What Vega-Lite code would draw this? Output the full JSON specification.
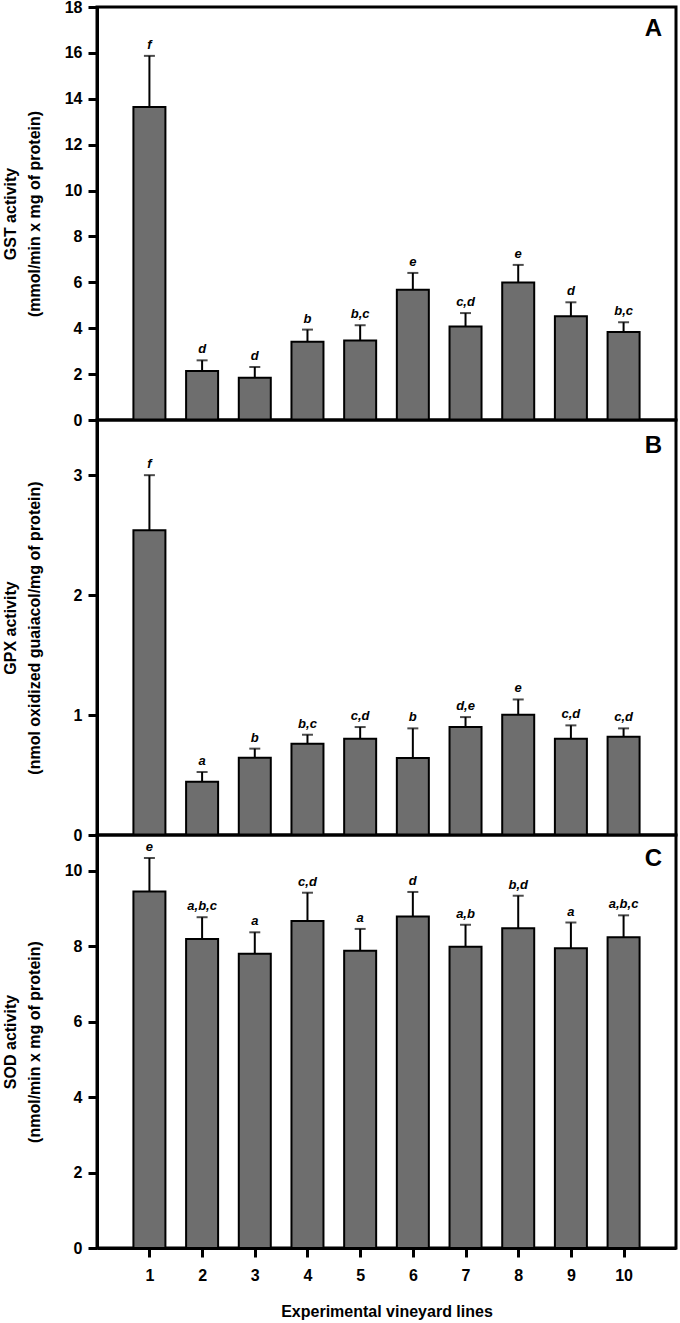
{
  "$schema": "https://vega.github.io/schema/vega-lite/v6.json",
  "padding": {"left": 0, "top": -3, "right": 2, "bottom": 4},
  "bounds": "flush",
  "spacing": 0,
  "background": "white",
  "config": {
    "font": "Liberation Sans",
    "view": {"stroke": "black", "strokeWidth": 3},
    "axis": {
      "grid": false,
      "domainColor": "black",
      "domainWidth": 3,
      "tickColor": "black",
      "tickWidth": 3,
      "tickSize": 9,
      "labelFont": "Liberation Sans",
      "labelFontWeight": "bold",
      "labelFontSize": 16,
      "labelColor": "black",
      "titleFont": "Liberation Sans",
      "titleFontWeight": "bold",
      "titleFontSize": 16,
      "titleColor": "black"
    },
    "axisY": {"labelPadding": 6, "minExtent": 33, "maxExtent": 33, "titlePadding": 22, "titleLineHeight": 24},
    "axisX": {"labelPadding": 10, "titlePadding": 20, "labelAngle": 0}
  },
  "datasets": {
    "d": [
      {"panel": "A", "line": 1, "value": 13.64, "err": 15.87, "label": "f"},
      {"panel": "A", "line": 2, "value": 2.14, "err": 2.60, "label": "d"},
      {"panel": "A", "line": 3, "value": 1.84, "err": 2.31, "label": "d"},
      {"panel": "A", "line": 4, "value": 3.41, "err": 3.94, "label": "b"},
      {"panel": "A", "line": 5, "value": 3.47, "err": 4.13, "label": "b,c"},
      {"panel": "A", "line": 6, "value": 5.68, "err": 6.41, "label": "e"},
      {"panel": "A", "line": 7, "value": 4.07, "err": 4.66, "label": "c,d"},
      {"panel": "A", "line": 8, "value": 5.99, "err": 6.76, "label": "e"},
      {"panel": "A", "line": 9, "value": 4.52, "err": 5.13, "label": "d"},
      {"panel": "A", "line": 10, "value": 3.84, "err": 4.26, "label": "b,c"},
      {"panel": "B", "line": 1, "value": 2.54, "err": 3.00, "label": "f"},
      {"panel": "B", "line": 2, "value": 0.444, "err": 0.525, "label": "a"},
      {"panel": "B", "line": 3, "value": 0.644, "err": 0.72, "label": "b"},
      {"panel": "B", "line": 4, "value": 0.761, "err": 0.836, "label": "b,c"},
      {"panel": "B", "line": 5, "value": 0.803, "err": 0.90, "label": "c,d"},
      {"panel": "B", "line": 6, "value": 0.642, "err": 0.889, "label": "b"},
      {"panel": "B", "line": 7, "value": 0.90, "err": 0.983, "label": "d,e"},
      {"panel": "B", "line": 8, "value": 1.003, "err": 1.13, "label": "e"},
      {"panel": "B", "line": 9, "value": 0.803, "err": 0.914, "label": "c,d"},
      {"panel": "B", "line": 10, "value": 0.82, "err": 0.889, "label": "c,d"},
      {"panel": "C", "line": 1, "value": 9.45, "err": 10.34, "label": "e"},
      {"panel": "C", "line": 2, "value": 8.19, "err": 8.77, "label": "a,b,c"},
      {"panel": "C", "line": 3, "value": 7.80, "err": 8.37, "label": "a"},
      {"panel": "C", "line": 4, "value": 8.67, "err": 9.42, "label": "c,d"},
      {"panel": "C", "line": 5, "value": 7.88, "err": 8.46, "label": "a"},
      {"panel": "C", "line": 6, "value": 8.79, "err": 9.44, "label": "d"},
      {"panel": "C", "line": 7, "value": 7.99, "err": 8.57, "label": "a,b"},
      {"panel": "C", "line": 8, "value": 8.48, "err": 9.34, "label": "b,d"},
      {"panel": "C", "line": 9, "value": 7.95, "err": 8.63, "label": "a"},
      {"panel": "C", "line": 10, "value": 8.24, "err": 8.82, "label": "a,b,c"}
    ]
  },
  "vconcat": [
    {
      "width": 579,
      "height": 413,
      "layer": [
        {
          "data": {"name": "d"},
          "transform": [{"filter": "datum.panel === 'A'"}],
          "mark": {"type": "rule", "color": "black", "strokeWidth": 2},
          "encoding": {
            "x": {"field": "line", "type": "quantitative", "scale": {"domain": [0.1, 10.9], "nice": false, "zero": false}, "axis": null},
            "y": {"field": "value", "type": "quantitative", "scale": {"domain": [0, 18], "nice": false},
              "axis": {"values": [0, 2, 4, 6, 8, 10, 12, 14, 16, 18], "title": ["GST activity", "(mmol/min x mg of protein)"]}},
            "y2": {"field": "err"}
          }
        },
        {
          "data": {"name": "d"},
          "transform": [{"filter": "datum.panel === 'A'"}],
          "mark": {"type": "tick", "orient": "horizontal", "size": 11, "thickness": 2, "color": "black"},
          "encoding": {
            "x": {"field": "line", "type": "quantitative", "scale": {"domain": [0.1, 10.9], "nice": false, "zero": false}, "axis": null},
            "y": {"field": "err", "type": "quantitative", "scale": {"domain": [0, 18], "nice": false},
              "axis": {"values": [0, 2, 4, 6, 8, 10, 12, 14, 16, 18], "title": ["GST activity", "(mmol/min x mg of protein)"]}}
          }
        },
        {
          "data": {"name": "d"},
          "transform": [{"filter": "datum.panel === 'A'"}],
          "mark": {"type": "bar", "orient": "vertical", "size": 32, "fill": "#6e6e6e", "stroke": "black", "strokeWidth": 2},
          "encoding": {
            "x": {"field": "line", "type": "quantitative", "scale": {"domain": [0.1, 10.9], "nice": false, "zero": false}, "axis": null},
            "y": {"field": "value", "type": "quantitative", "scale": {"domain": [0, 18], "nice": false},
              "axis": {"values": [0, 2, 4, 6, 8, 10, 12, 14, 16, 18], "title": ["GST activity", "(mmol/min x mg of protein)"]}}
          }
        },
        {
          "data": {"name": "d"},
          "transform": [{"filter": "datum.panel === 'A'"}],
          "mark": {"type": "text", "fontStyle": "italic", "fontWeight": "bold", "fontSize": 13, "dy": -7, "baseline": "alphabetic", "color": "black"},
          "encoding": {
            "x": {"field": "line", "type": "quantitative", "scale": {"domain": [0.1, 10.9], "nice": false, "zero": false}, "axis": null},
            "y": {"field": "err", "type": "quantitative", "scale": {"domain": [0, 18], "nice": false},
              "axis": {"values": [0, 2, 4, 6, 8, 10, 12, 14, 16, 18], "title": ["GST activity", "(mmol/min x mg of protein)"]}},
            "text": {"field": "label"}
          }
        },
        {
          "data": {"values": [{"letter": "A"}]},
          "mark": {"type": "text", "fontWeight": "bold", "fontSize": 24, "align": "right", "baseline": "alphabetic", "dx": -9, "dy": 29, "color": "black"},
          "encoding": {
            "x": {"datum": 10.9, "type": "quantitative", "scale": {"domain": [0.1, 10.9], "nice": false, "zero": false}, "axis": null},
            "y": {"datum": 18, "type": "quantitative", "scale": {"domain": [0, 18], "nice": false},
              "axis": {"values": [0, 2, 4, 6, 8, 10, 12, 14, 16, 18], "title": ["GST activity", "(mmol/min x mg of protein)"]}},
            "text": {"field": "letter", "type": "nominal"}
          }
        }
      ]
    },
    {
      "width": 579,
      "height": 415,
      "layer": [
        {
          "data": {"name": "d"},
          "transform": [{"filter": "datum.panel === 'B'"}],
          "mark": {"type": "rule", "color": "black", "strokeWidth": 2},
          "encoding": {
            "x": {"field": "line", "type": "quantitative", "scale": {"domain": [0.1, 10.9], "nice": false, "zero": false}, "axis": null},
            "y": {"field": "value", "type": "quantitative", "scale": {"domain": [0, 3.46], "nice": false},
              "axis": {"values": [0, 1, 2, 3], "title": ["GPX activity", "(nmol oxidized guaiacol/mg of protein)"]}},
            "y2": {"field": "err"}
          }
        },
        {
          "data": {"name": "d"},
          "transform": [{"filter": "datum.panel === 'B'"}],
          "mark": {"type": "tick", "orient": "horizontal", "size": 11, "thickness": 2, "color": "black"},
          "encoding": {
            "x": {"field": "line", "type": "quantitative", "scale": {"domain": [0.1, 10.9], "nice": false, "zero": false}, "axis": null},
            "y": {"field": "err", "type": "quantitative", "scale": {"domain": [0, 3.46], "nice": false},
              "axis": {"values": [0, 1, 2, 3], "title": ["GPX activity", "(nmol oxidized guaiacol/mg of protein)"]}}
          }
        },
        {
          "data": {"name": "d"},
          "transform": [{"filter": "datum.panel === 'B'"}],
          "mark": {"type": "bar", "orient": "vertical", "size": 32, "fill": "#6e6e6e", "stroke": "black", "strokeWidth": 2},
          "encoding": {
            "x": {"field": "line", "type": "quantitative", "scale": {"domain": [0.1, 10.9], "nice": false, "zero": false}, "axis": null},
            "y": {"field": "value", "type": "quantitative", "scale": {"domain": [0, 3.46], "nice": false},
              "axis": {"values": [0, 1, 2, 3], "title": ["GPX activity", "(nmol oxidized guaiacol/mg of protein)"]}}
          }
        },
        {
          "data": {"name": "d"},
          "transform": [{"filter": "datum.panel === 'B'"}],
          "mark": {"type": "text", "fontStyle": "italic", "fontWeight": "bold", "fontSize": 13, "dy": -7, "baseline": "alphabetic", "color": "black"},
          "encoding": {
            "x": {"field": "line", "type": "quantitative", "scale": {"domain": [0.1, 10.9], "nice": false, "zero": false}, "axis": null},
            "y": {"field": "err", "type": "quantitative", "scale": {"domain": [0, 3.46], "nice": false},
              "axis": {"values": [0, 1, 2, 3], "title": ["GPX activity", "(nmol oxidized guaiacol/mg of protein)"]}},
            "text": {"field": "label"}
          }
        },
        {
          "data": {"values": [{"letter": "B"}]},
          "mark": {"type": "text", "fontWeight": "bold", "fontSize": 24, "align": "right", "baseline": "alphabetic", "dx": -9, "dy": 33, "color": "black"},
          "encoding": {
            "x": {"datum": 10.9, "type": "quantitative", "scale": {"domain": [0.1, 10.9], "nice": false, "zero": false}, "axis": null},
            "y": {"datum": 3.46, "type": "quantitative", "scale": {"domain": [0, 3.46], "nice": false},
              "axis": {"values": [0, 1, 2, 3], "title": ["GPX activity", "(nmol oxidized guaiacol/mg of protein)"]}},
            "text": {"field": "letter", "type": "nominal"}
          }
        }
      ]
    },
    {
      "width": 579,
      "height": 413,
      "layer": [
        {
          "data": {"name": "d"},
          "transform": [{"filter": "datum.panel === 'C'"}],
          "mark": {"type": "rule", "color": "black", "strokeWidth": 2},
          "encoding": {
            "x": {"field": "line", "type": "quantitative", "scale": {"domain": [0.1, 10.9], "nice": false, "zero": false},
              "axis": {"values": [1, 2, 3, 4, 5, 6, 7, 8, 9, 10], "format": "d", "title": "Experimental vineyard lines"}},
            "y": {"field": "value", "type": "quantitative", "scale": {"domain": [0, 10.95], "nice": false},
              "axis": {"values": [0, 2, 4, 6, 8, 10], "title": ["SOD activity", "(nmol/min x  mg of protein)"]}},
            "y2": {"field": "err"}
          }
        },
        {
          "data": {"name": "d"},
          "transform": [{"filter": "datum.panel === 'C'"}],
          "mark": {"type": "tick", "orient": "horizontal", "size": 11, "thickness": 2, "color": "black"},
          "encoding": {
            "x": {"field": "line", "type": "quantitative", "scale": {"domain": [0.1, 10.9], "nice": false, "zero": false},
              "axis": {"values": [1, 2, 3, 4, 5, 6, 7, 8, 9, 10], "format": "d", "title": "Experimental vineyard lines"}},
            "y": {"field": "err", "type": "quantitative", "scale": {"domain": [0, 10.95], "nice": false},
              "axis": {"values": [0, 2, 4, 6, 8, 10], "title": ["SOD activity", "(nmol/min x  mg of protein)"]}}
          }
        },
        {
          "data": {"name": "d"},
          "transform": [{"filter": "datum.panel === 'C'"}],
          "mark": {"type": "bar", "orient": "vertical", "size": 32, "fill": "#6e6e6e", "stroke": "black", "strokeWidth": 2},
          "encoding": {
            "x": {"field": "line", "type": "quantitative", "scale": {"domain": [0.1, 10.9], "nice": false, "zero": false},
              "axis": {"values": [1, 2, 3, 4, 5, 6, 7, 8, 9, 10], "format": "d", "title": "Experimental vineyard lines"}},
            "y": {"field": "value", "type": "quantitative", "scale": {"domain": [0, 10.95], "nice": false},
              "axis": {"values": [0, 2, 4, 6, 8, 10], "title": ["SOD activity", "(nmol/min x  mg of protein)"]}}
          }
        },
        {
          "data": {"name": "d"},
          "transform": [{"filter": "datum.panel === 'C'"}],
          "mark": {"type": "text", "fontStyle": "italic", "fontWeight": "bold", "fontSize": 13, "dy": -7, "baseline": "alphabetic", "color": "black"},
          "encoding": {
            "x": {"field": "line", "type": "quantitative", "scale": {"domain": [0.1, 10.9], "nice": false, "zero": false},
              "axis": {"values": [1, 2, 3, 4, 5, 6, 7, 8, 9, 10], "format": "d", "title": "Experimental vineyard lines"}},
            "y": {"field": "err", "type": "quantitative", "scale": {"domain": [0, 10.95], "nice": false},
              "axis": {"values": [0, 2, 4, 6, 8, 10], "title": ["SOD activity", "(nmol/min x  mg of protein)"]}},
            "text": {"field": "label"}
          }
        },
        {
          "data": {"values": [{"letter": "C"}]},
          "mark": {"type": "text", "fontWeight": "bold", "fontSize": 24, "align": "right", "baseline": "alphabetic", "dx": -9, "dy": 31, "color": "black"},
          "encoding": {
            "x": {"datum": 10.9, "type": "quantitative", "scale": {"domain": [0.1, 10.9], "nice": false, "zero": false},
              "axis": {"values": [1, 2, 3, 4, 5, 6, 7, 8, 9, 10], "format": "d", "title": "Experimental vineyard lines"}},
            "y": {"datum": 10.95, "type": "quantitative", "scale": {"domain": [0, 10.95], "nice": false},
              "axis": {"values": [0, 2, 4, 6, 8, 10], "title": ["SOD activity", "(nmol/min x  mg of protein)"]}},
            "text": {"field": "letter", "type": "nominal"}
          }
        }
      ]
    }
  ]
}
